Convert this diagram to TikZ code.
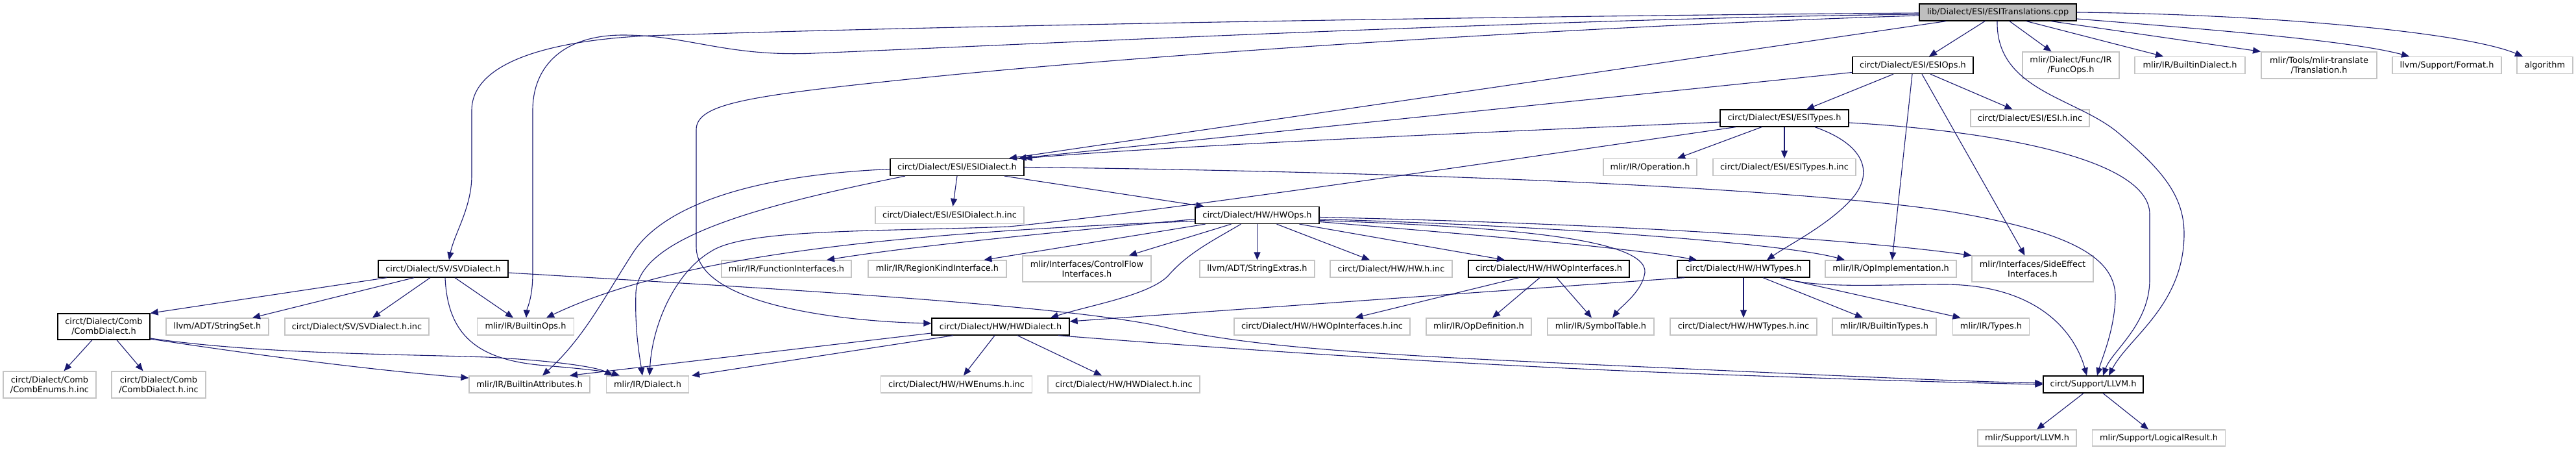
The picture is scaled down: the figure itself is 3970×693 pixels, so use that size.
\documentclass[tikz,border=0pt]{standalone}
\usepackage{fontspec}
\setmainfont{DejaVu Sans}
\usetikzlibrary{arrows.meta}
\definecolor{edgec}{HTML}{191970}
\definecolor{leafgray}{HTML}{C4C4C4}
\definecolor{rootfill}{HTML}{BFBFBF}
\begin{document}
\begin{tikzpicture}[x=1pt,y=-1pt,
  box/.style={draw=black, line width=1.3pt, fill=white, inner sep=0pt, align=center,
    font=\fontsize{12.9}{15}\selectfont, minimum height=26pt},
  leaf/.style={box, draw=leafgray},
  rootbox/.style={box, fill=rootfill},
  two/.style={minimum height=41pt},
  dep/.style={draw=edgec, line width=1.1pt, -{Triangle[length=12pt,width=10pt]}}
]
\useasboundingbox (0,0) rectangle (3970,693);
% row 0
\node[rootbox, minimum width=242pt] (root) at (3079,19) {lib/Dialect/ESI/ESITranslations.cpp};
% row 1
\node[box, minimum width=186pt] (esiops) at (2948,100.5) {circt/Dialect/ESI/ESIOps.h};
\node[leaf, two, minimum width=149pt] (funcops) at (3191.5,100.5) {mlir/Dialect/Func/IR\\/FuncOps.h};
\node[leaf, minimum width=170pt] (builtindialect) at (3375,100.5) {mlir/IR/BuiltinDialect.h};
\node[leaf, two, minimum width=178pt] (translation) at (3574,100.5) {mlir/Tools/mlir-translate\\/Translation.h};
\node[leaf, minimum width=168pt] (format) at (3771,100.5) {llvm/Support/Format.h};
\node[leaf, minimum width=86pt] (algorithm) at (3922,100.5) {algorithm};
% row 2
\node[box, minimum width=198pt] (esitypes) at (2750,182) {circt/Dialect/ESI/ESITypes.h};
\node[leaf, minimum width=183pt] (esihinc) at (3128.5,182) {circt/Dialect/ESI/ESI.h.inc};
% row 3
\node[box, minimum width=206pt] (esidialect) at (1475,257.5) {circt/Dialect/ESI/ESIDialect.h};
\node[leaf, minimum width=144pt] (operation) at (2543,257.5) {mlir/IR/Operation.h};
\node[leaf, minimum width=220pt] (esitypesinc) at (2750,257.5) {circt/Dialect/ESI/ESITypes.h.inc};
% row 4
\node[leaf, minimum width=229pt] (esidialectinc) at (1463.5,331.5) {circt/Dialect/ESI/ESIDialect.h.inc};
\node[box, minimum width=191pt] (hwops) at (1937.5,331.5) {circt/Dialect/HW/HWOps.h};
% row 5
\node[box, minimum width=200pt] (svdialect) at (683,414) {circt/Dialect/SV/SVDialect.h};
\node[leaf, minimum width=200pt] (funcif) at (1212,414) {mlir/IR/FunctionInterfaces.h};
\node[leaf, minimum width=213pt] (regionkind) at (1444.5,414) {mlir/IR/RegionKindInterface.h};
\node[leaf, two, minimum width=198pt, minimum height=40pt] (controlflow) at (1675,414) {mlir/Interfaces/ControlFlow\\Interfaces.h};
\node[leaf, minimum width=177pt] (stringextras) at (1937.5,414) {llvm/ADT/StringExtras.h};
\node[leaf, minimum width=188pt] (hwhinc) at (2144,414) {circt/Dialect/HW/HW.h.inc};
\node[box, minimum width=248pt] (hwopif) at (2387,414) {circt/Dialect/HW/HWOpInterfaces.h};
\node[box, minimum width=204pt] (hwtypes) at (2687,414) {circt/Dialect/HW/HWTypes.h};
\node[leaf, minimum width=202pt] (opimpl) at (2914,414) {mlir/IR/OpImplementation.h};
\node[leaf, two, minimum width=187pt, minimum height=40pt] (sideeffect) at (3132.5,414) {mlir/Interfaces/SideEffect\\Interfaces.h};
% row 6
\node[box, two, minimum width=142pt, minimum height=40pt] (combdialect) at (160,503) {circt/Dialect/Comb\\/CombDialect.h};
\node[leaf, minimum width=158pt] (stringset) at (335,503) {llvm/ADT/StringSet.h};
\node[leaf, minimum width=222pt] (svdialectinc) at (550,503) {circt/Dialect/SV/SVDialect.h.inc};
\node[leaf, minimum width=149pt] (builtinops) at (810,503) {mlir/IR/BuiltinOps.h};
\node[box, minimum width=212pt] (hwdialect) at (1542,503) {circt/Dialect/HW/HWDialect.h};
\node[leaf, minimum width=271pt] (hwopifinc) at (2037.5,503) {circt/Dialect/HW/HWOpInterfaces.h.inc};
\node[leaf, minimum width=162pt] (opdef) at (2279,503) {mlir/IR/OpDefinition.h};
\node[leaf, minimum width=164pt] (symboltable) at (2467,503) {mlir/IR/SymbolTable.h};
\node[leaf, minimum width=226pt] (hwtypesinc) at (2687,503) {circt/Dialect/HW/HWTypes.h.inc};
\node[leaf, minimum width=160pt] (builtintypes) at (2904,503) {mlir/IR/BuiltinTypes.h};
\node[leaf, minimum width=118pt] (types) at (3068.5,503) {mlir/IR/Types.h};
% row 7
\node[leaf, two, minimum width=143pt] (combenums) at (76.5,592.5) {circt/Dialect/Comb\\/CombEnums.h.inc};
\node[leaf, two, minimum width=145pt] (combdialectinc) at (244.5,592.5) {circt/Dialect/Comb\\/CombDialect.h.inc};
\node[leaf, minimum width=186pt] (builtinattrs) at (816,592) {mlir/IR/BuiltinAttributes.h};
\node[leaf, minimum width=127pt] (dialect) at (998,592) {mlir/IR/Dialect.h};
\node[leaf, minimum width=233pt] (hwenums) at (1474,592) {circt/Dialect/HW/HWEnums.h.inc};
\node[leaf, minimum width=234pt] (hwdialectinc) at (1732,592) {circt/Dialect/HW/HWDialect.h.inc};
\node[box, minimum width=154pt] (llvm) at (3226,592) {circt/Support/LLVM.h};
% row 8
\node[leaf, minimum width=152pt, minimum height=25pt] (mlirllvm) at (3124,674.5) {mlir/Support/LLVM.h};
\node[leaf, minimum width=205pt, minimum height=25pt] (logical) at (3327,674.5) {mlir/Support/LogicalResult.h};

% ---- edges from root
\draw[dep] ([xshift=-20]root.south) -- ([xshift=25]esiops.north);
\draw[dep] ([xshift=18]root.south) -- ([xshift=-30]funcops.north);
\draw[dep] ([xshift=44]root.south) -- ([xshift=-41]builtindialect.north);
\draw[dep] ([xshift=82]root.south) -- ([xshift=-90]translation.north);
\draw[dep] ([yshift=-10]root.east) .. controls (3400,45) and (3620,62) .. ([xshift=-58]format.north);
\draw[dep] (root.east) .. controls (3500,22) and (3800,50) .. ([xshift=-34]algorithm.north);
\draw[dep] ([xshift=-80]root.south) -- ([xshift=80]esidialect.north);
\draw[dep] ([yshift=-1]root.west) .. controls (2400,24) and (1500,38) .. (1000,55)
  .. controls (850,62) and (727,95) .. (727,170) -- (727,270)
  .. controls (727,320) and (700,360) .. ([xshift=9]svdialect.north);
\draw[dep] ([yshift=-3]root.west) .. controls (2400,28) and (1500,72) .. (1255,82)
  .. controls (1120,88) and (1060,54) .. (960,54)
  .. controls (870,54) and (821,100) .. (821,170) -- (821,420)
  .. controls (821,460) and (812,475) .. ([xshift=1]builtinops.north);
\draw[dep] ([yshift=-5]root.west) .. controls (2500,38) and (1800,80) .. (1400,122)
  .. controls (1150,148) and (1073,160) .. (1073,200) -- (1073,380)
  .. controls (1073,470) and (1300,495) .. ([yshift=5]hwdialect.west);
\draw[dep] ([xshift=-1]root.south) .. controls (3076,140) and (3200,150) .. (3265,205)
  .. controls (3330,260) and (3366,300) .. (3366,360)
  .. controls (3366,470) and (3280,520) .. ([xshift=24]llvm.north);

% ---- ESIOps
\draw[dep] ([xshift=-30]esiops.south) -- ([xshift=34]esitypes.north);
\draw[dep] ([yshift=-11]esiops.west) -- ([xshift=-9]esidialect.north east);
\draw[dep] ([xshift=27]esiops.south) -- ([xshift=-27]esihinc.north);
\draw[dep] ([xshift=-1]esiops.south) -- ([xshift=2]opimpl.north);
\draw[dep] ([xshift=14]esiops.south) -- ([xshift=-12]sideeffect.north);

% ---- ESITypes
\draw[dep] ([yshift=-6]esitypes.west) .. controls (2250,205) and (1800,225) .. (esidialect.north east);
\draw[dep] ([xshift=-35]esitypes.south) -- ([xshift=42]operation.north);
\draw[dep] (esitypes.south) -- (esitypesinc.north);
\draw[dep] ([xshift=47]esitypes.south) .. controls (2880,225) and (2885,270) .. (2855,305)
  .. controls (2820,345) and (2760,375) .. ([xshift=36]hwtypes.north);
\draw[dep] ([yshift=-7]esitypes.east) .. controls (3050,200) and (3313,240) .. (3313,330) -- (3313,430)
  .. controls (3313,500) and (3255,540) .. ([xshift=15]llvm.north);
\draw[dep] ([xshift=-75]esitypes.south) .. controls (2400,235) and (1800,325) .. (1555,349)
  .. controls (1350,357) and (1150,352) .. (1096,387)
  .. controls (1040,420) and (1005,500) .. ([xshift=3]dialect.north);

% ---- ESIDialect
\draw[dep] (esidialect.south) -- ([xshift=5]esidialectinc.north);
\draw[dep] ([xshift=73]esidialect.south) -- ([xshift=-82]hwops.north);
\draw[dep] (esidialect.east) .. controls (2300,266) and (2800,295) .. (3000,325)
  .. controls (3200,358) and (3262,400) .. (3260,460)
  .. controls (3258,510) and (3240,550) .. ([xshift=6]llvm.north);
\draw[dep] ([yshift=-3]esidialect.west) .. controls (1150,270) and (1020,320) .. (975,390)
  .. controls (930,460) and (900,520) .. ([xshift=20]builtinattrs.north);
\draw[dep] ([xshift=-80]esidialect.south) .. controls (1150,320) and (985,370) .. (980,450)
  .. controls (978,510) and (986,550) .. ([xshift=-8]dialect.north);

% ---- HWOps
\draw[dep] ([yshift=-6]hwops.west) .. controls (1600,360) and (1400,380) .. ([xshift=62]funcif.north);
\draw[dep] ([xshift=-80]hwops.south) -- ([xshift=72]regionkind.north);
\draw[dep] ([xshift=-40]hwops.south) -- ([xshift=65]controlflow.north);
\draw[dep] (hwops.south) -- (stringextras.north);
\draw[dep] ([xshift=30]hwops.south) -- ([xshift=-33]hwhinc.north);
\draw[dep] ([xshift=65]hwops.south) -- ([xshift=-68]hwopif.north);
\draw[dep] ([yshift=-10]hwops.east) .. controls (2250,360) and (2500,380) .. ([xshift=-72]hwtypes.north);
\draw[dep] ([yshift=-6]hwops.east) .. controls (2400,348) and (2750,375) .. ([xshift=-71]opimpl.north);
\draw[dep] ([yshift=-3]hwops.east) .. controls (2500,345) and (2850,368) .. (sideeffect.north west);
\draw[dep] ([yshift=-8]hwops.east) .. controls (2300,349) and (2540,365) .. (2535,420)
  .. controls (2530,450) and (2500,470) .. ([xshift=18]symboltable.north);
\draw[dep] ([xshift=-25]hwops.south) .. controls (1870,370) and (1830,390) .. (1800,425)
  .. controls (1770,455) and (1680,470) .. ([xshift=77]hwdialect.north);
\draw[dep] ([yshift=-9]hwops.west) .. controls (1400,358) and (1050,390) .. ([xshift=32]builtinops.north);

% ---- SVDialect
\draw[dep] ([xshift=-87]svdialect.south) -- (combdialect.north east);
\draw[dep] ([xshift=-45]svdialect.south) -- ([xshift=54]stringset.north);
\draw[dep] ([xshift=-20]svdialect.south) -- ([xshift=24]svdialectinc.north);
\draw[dep] ([xshift=18]svdialect.south) -- ([xshift=-19]builtinops.north);
\draw[dep] ([xshift=3]svdialect.south) .. controls (690,520) and (740,555) .. (840,563)
  .. controls (900,568) and (935,572) .. ([xshift=-43]dialect.north);
\draw[dep] ([yshift=-6]svdialect.east) .. controls (1200,445) and (1650,470) .. (1800,505)
  .. controls (1950,540) and (2200,550) .. (2600,568)
  .. controls (2900,582) and (3050,588) .. ([yshift=2]llvm.west);

% ---- CombDialect
\draw[dep] ([xshift=-18]combdialect.south) -- ([xshift=22]combenums.north);
\draw[dep] ([xshift=20]combdialect.south) -- ([xshift=-24]combdialectinc.north);
\draw[dep] ([yshift=-19]combdialect.east) .. controls (450,555) and (600,572) .. ([yshift=10]builtinattrs.west);
\draw[dep] ([yshift=-18]combdialect.east) .. controls (400,545) and (600,545) .. (750,550)
  .. controls (850,555) and (920,565) .. ([xshift=-54]dialect.north);

% ---- HWDialect
\draw[dep] ([xshift=-9]hwdialect.south) -- ([xshift=11]hwenums.north);
\draw[dep] ([xshift=26]hwdialect.south) -- ([xshift=-34]hwdialectinc.north);
\draw[dep] ([yshift=-10]hwdialect.west) -- ([xshift=62]builtinattrs.north);
\draw[dep] ([xshift=-73]hwdialect.south) -- ([xshift=4]dialect.north east);
\draw[dep] ([xshift=89]hwdialect.south) .. controls (1800,530) and (2200,560) .. (2600,575)
  .. controls (2900,586) and (3050,590) .. (llvm.west);

% ---- HWOpInterfaces
\draw[dep] ([xshift=-46]hwopif.south) -- ([xshift=51]hwopifinc.north);
\draw[dep] ([xshift=-14]hwopif.south) -- ([xshift=21]opdef.north);
\draw[dep] ([xshift=12]hwopif.south) -- ([xshift=-14]symboltable.north);

% ---- HWTypes
\draw[dep] ([xshift=-91]hwtypes.south) -- ([yshift=8]hwdialect.east);
\draw[dep] (hwtypes.south) -- (hwtypesinc.north);
\draw[dep] ([xshift=30]hwtypes.south) -- ([xshift=-33]builtintypes.north);
\draw[dep] ([xshift=56]hwtypes.south) -- ([xshift=-47]types.north);
\draw[dep] ([xshift=59]hwtypes.south) .. controls (2800,445) and (2900,438) .. (3000,438)
  .. controls (3150,440) and (3200,520) .. ([xshift=-10]llvm.north);

% ---- LLVM
\draw[dep] ([xshift=-15]llvm.south) -- ([xshift=15]mlirllvm.north);
\draw[dep] ([xshift=15]llvm.south) -- ([xshift=-16]logical.north);
\end{tikzpicture}
\end{document}
